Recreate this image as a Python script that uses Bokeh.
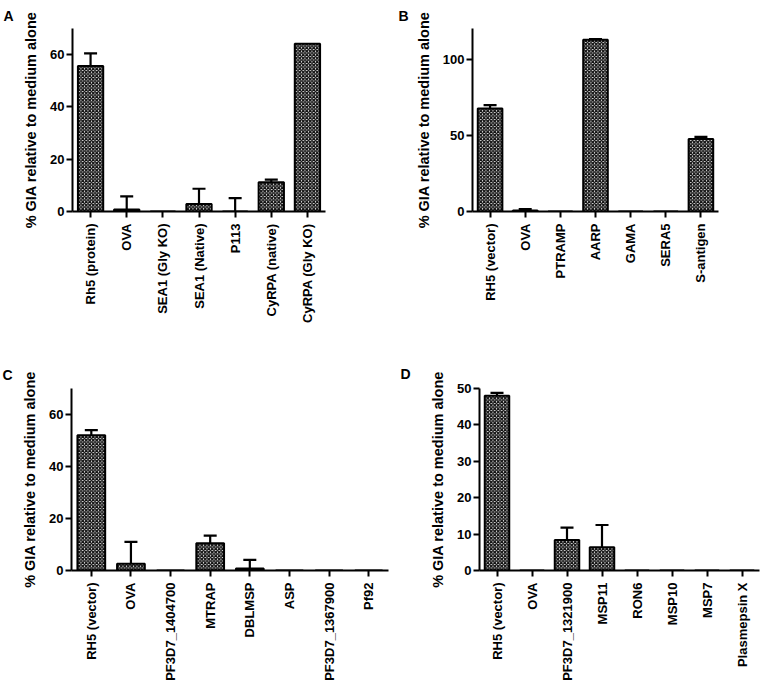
import math
from bokeh.plotting import figure
from bokeh.models import (FactorRange, Range1d, FixedTicker, ColumnDataSource,
                          Whisker, TeeHead)
from bokeh.layouts import column, row
from bokeh.embed import file_html
from bokeh.resources import INLINE

# ---------------- data ----------------
A_cats = ["Rh5 (protein)", "OVA", "SEA1 (Gly KO)", "SEA1 (Native)", "P113",
          "CyRPA (native)", "CyRPA (Gly KO)"]
A_mean = [55.7, 0.8, 0.0, 2.9, 0.0, 11.2, 64.2]
A_err = [4.8, 5.0, 0.0, 5.8, 5.1, 1.0, 0.0]
A_ticks = [0, 20, 40, 60]

B_cats = ["RH5 (vector)", "OVA", "PTRAMP", "AARP", "GAMA", "SERA5", "S-antigen"]
B_mean = [67.5, 0.6, 0.0, 112.6, 0.0, 0.0, 47.6]
B_err = [2.3, 0.9, 0.0, 0.5, 0.0, 0.0, 1.3]
B_ticks = [0, 50, 100]

C_cats = ["RH5 (vector)", "OVA", "PF3D7_1404700", "MTRAP", "DBLMSP", "ASP",
          "PF3D7_1367900", "Pf92"]
C_mean = [52.0, 2.6, 0.0, 10.5, 0.8, 0.0, 0.0, 0.0]
C_err = [2.0, 8.4, 0.0, 2.9, 3.3, 0.0, 0.0, 0.0]
C_ticks = [0, 20, 40, 60]

D_cats = ["RH5 (vector)", "OVA", "PF3D7_1321900", "MSP11", "RON6", "MSP10",
          "MSP7", "Plasmepsin X"]
D_mean = [48.0, 0.0, 8.4, 6.4, 0.0, 0.0, 0.0, 0.0]
D_err = [0.8, 0.0, 3.4, 6.1, 0.0, 0.0, 0.0, 0.0]
D_ticks = [0, 10, 20, 30, 40, 50]

Y_TITLE = "% GIA relative to medium alone"
FONT = "Liberation Sans"


def panel(letter, cats, mean, err, ticks, ymax, width, height, bl, br, bt, bb,
          toff, tstand):
    p = figure(x_range=FactorRange(factors=cats, range_padding=0),
               y_range=Range1d(0, ymax), width=width, height=height,
               output_backend="svg", toolbar_location=None,
               min_border_left=bl, min_border_right=br,
               min_border_top=bt, min_border_bottom=bb)
    p.outline_line_color = None
    p.xgrid.visible = False
    p.ygrid.visible = False
    p.background_fill_color = "white"
    p.border_fill_color = "white"

    # panel letter as the figure title
    p.title.text = letter
    p.title.align = "left"
    p.title.offset = toff
    p.title.standoff = tstand
    p.title.text_font = FONT
    p.title.text_font_style = "bold"
    p.title.text_font_size = "14px"
    p.title.text_color = "black"

    src = ColumnDataSource(dict(x=cats, top=mean))
    p.vbar(x="x", top="top", width=0.7, source=src,
           fill_color="white", line_color="black", line_width=2,
           hatch_pattern="diagonal_cross", hatch_scale=3.5,
           hatch_weight=1.5, hatch_color="#111111")

    ex = [c for c, e in zip(cats, err) if e > 0]
    lo = [m for m, e in zip(mean, err) if e > 0]
    hi = [m + e for m, e in zip(mean, err) if e > 0]
    esrc = ColumnDataSource(dict(x=ex, lower=lo, upper=hi))
    w = Whisker(source=esrc, base="x", lower="lower", upper="upper",
                dimension="height", line_width=2.2, line_color="black",
                upper_head=TeeHead(size=13, line_width=2.2, line_color="black"),
                lower_head=None)
    p.add_layout(w)

    for ax in (p.xaxis[0], p.yaxis[0]):
        ax.axis_line_width = 2
        ax.axis_line_color = "black"
        ax.major_tick_line_width = 2
        ax.major_tick_line_color = "black"
        ax.major_tick_out = 6
        ax.major_tick_in = 0
        ax.minor_tick_line_color = None
        ax.major_label_text_font = FONT
        ax.major_label_text_font_style = "bold"
        ax.major_label_text_font_size = "13px"
        ax.major_label_text_color = "black"

    p.yaxis.ticker = FixedTicker(ticks=ticks)
    p.yaxis.major_label_standoff = 2
    p.yaxis.axis_label = Y_TITLE
    p.yaxis.axis_label_text_font = FONT
    p.yaxis.axis_label_text_font_style = "bold"
    p.yaxis.axis_label_text_font_size = "14.5px"
    p.yaxis.axis_label_text_color = "black"
    p.yaxis.axis_label_standoff = 8

    p.xaxis.major_label_orientation = math.pi / 2
    p.xaxis.major_label_standoff = 6
    return p


# row 1: frames at y 27..211; row 2: frames at y 388..571
pA = panel("A", A_cats, A_mean, A_err, A_ticks, 70, 398, 354, 72, 73, 27, 143,
           -69, 10)
pB = panel("B", B_cats, B_mean, B_err, B_ticks, 120, 364, 354, 74, 44, 27, 143,
           -74, 10)
pC = panel("C", C_cats, C_mean, C_err, C_ticks, 70, 398, 329, 71, 10, 34, 112,
           -69, 11)
pD = panel("D", D_cats, D_mean, D_err, D_ticks, 50, 364, 329, 81, 3, 34, 112,
           -79, 13)

layout = column(row(pA, pB), row(pC, pD))
open("out.html", "w").write(file_html(layout, INLINE))
